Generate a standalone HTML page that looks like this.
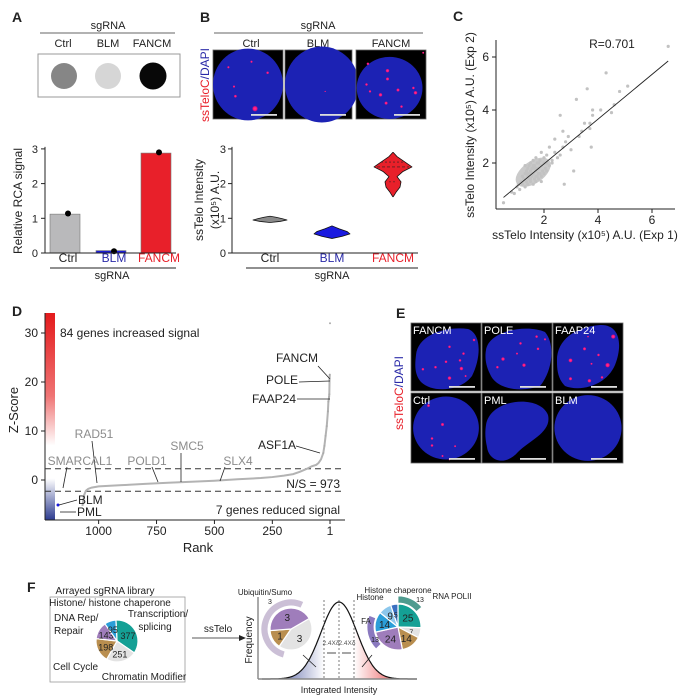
<!DOCTYPE html>
<html><head><meta charset="utf-8">
<style>
html,body{margin:0;padding:0;background:#fff;}
svg{display:block;font-family:"Liberation Sans",Arial,sans-serif;}
</style></head>
<body>
<svg id="fig" width="695" height="700" viewBox="0 0 695 700" xmlns="http://www.w3.org/2000/svg">
<defs>
<radialGradient id="dot" cx="50%" cy="50%" r="50%">
<stop offset="0" stop-color="#ff3399"/><stop offset="0.6" stop-color="#ff1177"/><stop offset="1" stop-color="#ff117700"/>
</radialGradient>
<linearGradient id="cbar" x1="0" y1="0" x2="0" y2="1">
<stop offset="0" stop-color="#e41a1c"/><stop offset="0.4" stop-color="#ef7474"/><stop offset="0.64" stop-color="#ffffff"/><stop offset="0.8" stop-color="#ffffff"/><stop offset="1" stop-color="#2c3b8f"/>
</linearGradient>
<linearGradient id="gblue" x1="0" y1="0" x2="1" y2="0">
<stop offset="0" stop-color="#2c3b8f"/><stop offset="1" stop-color="#ffffff"/>
</linearGradient>
<linearGradient id="gred" x1="0" y1="0" x2="1" y2="0">
<stop offset="0" stop-color="#ffffff"/><stop offset="1" stop-color="#e41a1c"/>
</linearGradient>
</defs>
</svg>
<script>
// ---------- DATA ----------
const barCategories = ["Ctrl","BLM","FANCM"];
const barValues = [1.12, 0.07, 2.88];
const barDots = [1.14, 0.05, 2.90];
const barTicks = [0,1,2,3];

const violinCategories = ["Ctrl","BLM","FANCM"];
const violinCtrlVals = [0.88,0.91,0.95,0.99,1.03,1.06];
const violinCtrlWid  = [0.2, 10, 17, 12, 6, 0.2];
const violinBlmVals = [0.42,0.48,0.55,0.62,0.70,0.78];
const violinBlmWid  = [0.2, 10, 18, 15, 7, 0.2];
const violinFancmVals = [1.62,1.75,1.90,2.05,2.20,2.35,2.48,2.62,2.78,2.90];
const violinFancmWid  = [0.2, 3, 7, 8, 4, 10, 19, 12, 4, 0.2];
const violinTicks = [0,1,2,3];

const scatterX = [0.5,0.8,0.9,1.0,1.05,1.1,1.15,1.2,1.2,1.25,1.3,1.3,1.35,1.35,1.4,1.4,1.4,1.45,1.45,1.5,1.5,1.5,1.55,1.55,1.6,1.6,1.6,1.65,1.65,1.7,1.7,1.7,1.75,1.75,1.8,1.8,1.85,1.85,1.9,1.9,1.95,2.0,2.0,2.05,2.1,2.1,2.2,2.2,2.3,2.4,2.5,2.6,2.6,2.7,2.75,2.8,2.9,3.0,3.1,3.2,3.3,3.4,3.5,3.6,3.7,3.75,3.8,3.8,4.1,4.3,4.5,4.6,4.8,5.1,6.6,1.3,1.5,1.6,1.7,1.8,1.9,2.0,1.4,1.5,1.6,1.7,1.8,2.4,2.7,3.7,1.9,2.1,2.3];
const scatterY = [0.5,0.9,0.85,1.1,1.2,1.0,1.3,1.2,1.5,1.4,1.1,1.6,1.3,1.7,1.2,1.5,1.8,1.4,1.9,1.3,1.6,2.0,1.5,1.8,1.2,1.6,2.1,1.4,1.9,1.3,1.7,2.2,1.5,2.0,1.4,1.8,1.6,2.1,1.5,1.9,1.7,1.6,2.2,1.8,1.7,2.3,1.9,2.6,2.0,2.4,2.2,3.8,2.3,2.6,1.2,2.8,3.0,2.5,1.7,4.4,3.0,3.2,3.5,4.8,3.3,2.6,3.8,4.0,4.0,5.4,3.9,4.2,4.7,4.9,6.4,1.9,1.7,1.9,1.8,1.6,2.4,2.0,1.6,1.4,1.8,1.5,2.0,2.9,3.2,3.5,1.3,2.0,2.1];
const scatterTicks = [2,4,6];
const fitLine = [0.5,0.7,6.6,5.85];

const rankValues = [1,2,3,4,5,6,8,10,15,20,25,30,40,50,60,80,100,130,160,200,250,300,400,500,600,700,800,900,1000,1030,1045,1055,1062,1066,1070];
const zValues = [32,21.5,20.5,17.5,17,16.5,16,14,11,9,7,5.5,4.2,3.5,3.1,2.8,2.3,1.7,1.2,0.9,0.6,0.4,0.15,-0.15,-0.35,-0.55,-0.8,-1.05,-1.3,-1.55,-1.8,-2.2,-3.0,-4.2,-5.3];
const rankTicks = [1000,750,500,250,1];
const zTicks = [0,10,20,30];

const libValues = [377,251,198,143,95];
const libColors = ["#14a095","#e3e3e3","#b98e4f","#9f7dbb","#2b9ed8"];
const lowValues = [3,1,3];
const lowColors = ["#e3e3e3","#b98e4f","#9f7dbb"];
const highValues = [25,7,14,24,14,9,5];
const highColors = ["#14a095","#e3e3e3","#b98e4f","#9f7dbb","#2b9ed8","#8cc7ec","#3a6fc0"];

// ---------- HELPERS ----------
const svg = document.getElementById('fig');
const NS = "http://www.w3.org/2000/svg";
function mk(tag, attrs, name, parent){
  const el = document.createElementNS(NS, tag);
  for (const k in attrs) el.setAttribute(k, attrs[k]);
  
  
  (parent||svg).appendChild(el);
  return el;
}
function txt(x,y,s,name,o){
  o=o||{};
  const el = mk('text',{x:x,y:y,'font-size':o.fs||11,'text-anchor':o.a||'middle',fill:o.c||'#222','font-weight':o.fw||'normal'},name,o.p);
  if(o.rot) el.setAttribute('transform','rotate('+o.rot+' '+x+' '+y+')');
  el.textContent=s;
  return el;
}
function line(x1,y1,x2,y2,name,o){
  o=o||{};
  return mk('line',{x1:x1,y1:y1,x2:x2,y2:y2,stroke:o.c||'#222','stroke-width':o.w||1,'stroke-dasharray':o.d||'none'},name,o.p);
}
function nucleus(x,y,w,h,name,shape,dots,label){
  const g = mk('g',{},name);
  mk('rect',{x:x,y:y,width:w,height:h,fill:'#000',stroke:'#666','stroke-width':0.8},'image-background',g);
  mk('path',{d:shape,fill:'#1c22b4'},'nucleus',g);
  dots.forEach(d=>{ mk('circle',{cx:x+d[0]*w,cy:y+d[1]*h,r:d[2],fill:'url(#dot)'},'telomere-foci',g); });
  mk('rect',{x:x+w-32,y:y+h-5,width:26,height:1.8,fill:'#ddd'},'scale-bar',g);
  if(label) txt(x+2,y+11,label,'image-label',{a:'start',c:'#fff',fs:11,p:g});
  return g;
}
function ellipsePath(x,y,w,h,ix,iy,iw,ih){
  const cx=x+w*ix, cy=y+h*iy, rx=w*iw, ry=h*ih;
  return 'M'+(cx-rx)+','+cy+' a'+rx+','+ry+' 0 1,0 '+(2*rx)+',0 a'+rx+','+ry+' 0 1,0 '+(-2*rx)+',0Z';
}
function pie(cx,cy,r,vals,cols,start,name,labels,fs){
  const tot = vals.reduce((a,b)=>a+b,0);
  let a0 = start*Math.PI/180;
  const g = mk('g',{},name);
  vals.forEach((v,i)=>{
    const a1 = a0 + v/tot*2*Math.PI;
    const x0=cx+r*Math.sin(a0), y0=cy-r*Math.cos(a0), x1=cx+r*Math.sin(a1), y1=cy-r*Math.cos(a1);
    const large = (a1-a0)>Math.PI?1:0;
    mk('path',{d:'M'+cx+','+cy+' L'+x0+','+y0+' A'+r+','+r+' 0 '+large+',1 '+x1+','+y1+'Z',fill:cols[i],stroke:'#fff','stroke-width':1.2},'pie-slice',g);
    if(labels){
      const am=(a0+a1)/2, lr=r*0.6;
      const f = (v/tot<0.08)?(fs||10)-3:(fs||10);
      txt(cx+lr*Math.sin(am),cy-lr*Math.cos(am)+4,String(v),'pie-value',{fs:f,p:g});
    }
    a0=a1;
  });
  return g;
}
function arc(cx,cy,r1,r2,s,e,col,name){
  const a=s*Math.PI/180,b=e*Math.PI/180,large=(e-s)>180?1:0;
  const p=(r,t)=>(cx+r*Math.sin(t))+','+(cy-r*Math.cos(t));
  return mk('path',{d:'M'+p(r2,a)+' A'+r2+','+r2+' 0 '+large+',1 '+p(r2,b)+' L'+p(r1,b)+' A'+r1+','+r1+' 0 '+large+',0 '+p(r1,a)+'Z',fill:col,stroke:'#fff','stroke-width':0.8},name);
}

// ---------- PANEL A ----------
txt(12,22,'A','panel-label-a',{fs:14,fw:'bold',a:'start'});
txt(108,29,'sgRNA','blot-sgrna-header');
line(40,33,175,33,'blot-header-line',{c:'#666'});
['Ctrl','BLM','FANCM'].forEach((s,i)=>txt([63,108,152][i],47,s,'blot-lane-label'));
mk('rect',{x:38,y:54,width:142,height:43,fill:'#fff',stroke:'#999','stroke-width':1},'dot-blot-frame');
mk('circle',{cx:64,cy:76,r:13,fill:'#868686'},'dot-blot-ctrl');
mk('circle',{cx:108,cy:76,r:13,fill:'#d6d6d6'},'dot-blot-blm');
mk('circle',{cx:153,cy:76,r:13.5,fill:'#080808'},'dot-blot-fancm');

const aY = v => 253 - v*34.7;
const aX = [65,111,156];
line(45,aY(3)-2,45,253,'a-y-axis');
barTicks.forEach(t=>{ line(41,aY(t),45,aY(t),'a-y-tick'); txt(38,aY(t)+4,String(t),'a-y-tick-label',{a:'end',fs:11}); });
txt(22,201,'Relative RCA signal','a-y-axis-title',{rot:-90,fs:12});
const barCols=['#b9b9bb','#1c1cd6','#e8202a'];
barValues.forEach((v,i)=>{
  mk('rect',{x:aX[i]-15,y:aY(v),width:30,height:253-aY(v),fill:barCols[i],stroke:'#777','stroke-width':0.6},'bar-'+barCategories[i].toLowerCase());
  mk('circle',{cx:aX[i]+3,cy:aY(barDots[i]),r:3,fill:'#000'},'dot-'+barCategories[i].toLowerCase());
});
line(45,253,176,253,'a-x-axis');
const labCols=['#222','#2a2aa8','#e8202a'];
barCategories.forEach((c,i)=>txt(aX[i]+3,262,c,'a-x-label-'+c.toLowerCase(),{c:labCols[i],fs:12}));
line(50,268,176,268,'a-sgrna-line');
txt(112,279,'sgRNA','a-x-axis-title');

// ---------- PANEL B ----------
txt(200,22,'B','panel-label-b',{fs:14,fw:'bold',a:'start'});
txt(318,29,'sgRNA','b-sgrna-header');
line(214,33,423,33,'b-header-line',{c:'#666'});
['Ctrl','BLM','FANCM'].forEach((s,i)=>txt([251,318,391][i],47,s,'b-image-label'));
nucleus(213,50,70,69,'image-ctrl',ellipsePath(213,50,70,69,0.5,0.5,0.5,0.52),[[0.22,0.25,1.3],[0.55,0.17,1.3],[0.78,0.33,1.5],[0.3,0.53,1.3],[0.32,0.67,1.6],[0.6,0.85,3]]);
nucleus(285,50,67,69,'image-blm',ellipsePath(285,50,67,69,0.55,0.5,0.55,0.55),[[0.6,0.6,0.8]]);
nucleus(356,50,70,69,'image-fancm',ellipsePath(356,50,70,69,0.48,0.55,0.47,0.45),[[0.17,0.2,1.5],[0.45,0.3,2],[0.35,0.65,2],[0.45,0.42,1.8],[0.15,0.5,1.5],[0.2,0.6,1.4],[0.6,0.58,1.8],[0.82,0.55,1.5],[0.85,0.62,2],[0.43,0.77,1.8],[0.65,0.82,1.5],[0.96,0.04,1.2]]);
(function(){const t=mk('text',{x:209,y:85,'font-size':12,'text-anchor':'middle',transform:'rotate(-90 209 85)'},'b-image-ylabel');
const s1=mk('tspan',{fill:'#e8202a'},'ylabel-ssteloc',t);s1.textContent='ssTeloC';
const s2=mk('tspan',{fill:'#2a2aa8'},'ylabel-dapi',t);s2.textContent='/DAPI';})();

const bY = v => 253 - v*34.7;
const bX = [270,332,393];
line(232,bY(3)-2,232,253,'b-y-axis');
violinTicks.forEach(t=>{ line(228,bY(t),232,bY(t),'b-y-tick'); txt(226,bY(t)+4,String(t),'b-y-tick-label',{a:'end',fs:11}); });
txt(203,200,'ssTelo Intensity','b-y-axis-title-1',{rot:-90,fs:12});
txt(219,200,'(x10⁵) A.U.','b-y-axis-title-2',{rot:-90,fs:12});
function violin(cx,vals,wid,col,name){
  let d='M'+cx+','+bY(vals[0]);
  vals.forEach((v,i)=>{ d+=' L'+(cx+wid[i])+','+bY(v); });
  for(let i=vals.length-1;i>=0;i--){ d+=' L'+(cx-wid[i])+','+bY(vals[i]); }
  mk('path',{d:d+'Z',fill:col,stroke:'#111','stroke-width':0.8,'stroke-linejoin':'round'},name);
}
violin(bX[0],violinCtrlVals,violinCtrlWid,'#8a8a8a','violin-ctrl');
violin(bX[1],violinBlmVals,violinBlmWid,'#1a1ae0','violin-blm');
violin(bX[2],violinFancmVals,violinFancmWid,'#e8202a','violin-fancm');
line(bX[2]-16,bY(2.48),bX[2]+16,bY(2.48),'violin-median',{d:'3,2',w:0.7});
line(bX[2]-12,bY(2.62),bX[2]+12,bY(2.62),'violin-quartile',{d:'2,2',w:0.6});
line(bX[2]-4,bY(2.05),bX[2]+4,bY(2.05),'violin-quartile',{d:'2,2',w:0.6});
line(232,253,418,253,'b-x-axis');
violinCategories.forEach((c,i)=>txt(bX[i],262,c,'b-x-label-'+c.toLowerCase(),{c:labCols[i],fs:12}));
line(246,268,418,268,'b-sgrna-line');
txt(332,279,'sgRNA','b-x-axis-title');

// ---------- PANEL C ----------
txt(453,21,'C','panel-label-c',{fs:14,fw:'bold',a:'start'});
const cX = v => 490 + v*27;
const cY = v => 216 - v*26.5;
line(496,40,496,209,'c-y-axis');
line(496,209,675,209,'c-x-axis');
scatterTicks.forEach(t=>{
  line(cX(t),209,cX(t),213,'c-x-tick'); txt(cX(t),224,String(t),'c-x-tick-label',{fs:12});
  line(492,cY(t),496,cY(t),'c-y-tick'); txt(489,cY(t)+4,String(t),'c-y-tick-label',{a:'end',fs:12});
});
mk('ellipse',{cx:cX(1.6),cy:cY(1.65),rx:20,ry:11,fill:'#cacaca',transform:'rotate(-35 '+cX(1.6)+' '+cY(1.65)+')'},'scatter-cluster');
scatterX.forEach((x,i)=>{ mk('circle',{cx:cX(x),cy:cY(scatterY[i]),r:1.6,fill:'#c2c2c2'},'scatter-point'); });
line(cX(fitLine[0]),cY(fitLine[1]),cX(fitLine[2]),cY(fitLine[3]),'c-fit-line',{w:0.9});
txt(612,48,'R=0.701','c-correlation-label',{fs:12});
txt(585,239,'ssTelo Intensity (x10⁵) A.U. (Exp 1)','c-x-axis-title',{fs:12});
txt(474,125,'ssTelo Intensity (x10⁵) A.U.  (Exp 2)','c-y-axis-title',{rot:-90,fs:12});

// ---------- PANEL D ----------
txt(12,316,'D','panel-label-d',{fs:14,fw:'bold',a:'start'});
const dX = r => 330 - (r-1)*0.2316;
const dY = z => 480 - z*4.9;
mk('rect',{x:45,y:313,width:10,height:207,fill:'url(#cbar)'},'d-colorbar');
line(45,313,45,520,'d-y-axis');
line(45,520,345,520,'d-x-axis');
zTicks.forEach(t=>{ line(41,dY(t),45,dY(t),'d-y-tick'); txt(38,dY(t)+4,String(t),'d-y-tick-label',{a:'end',fs:12}); });
rankTicks.forEach(t=>{ line(dX(t),520,dX(t),524,'d-x-tick'); txt(dX(t),535,String(t),'d-x-tick-label',{fs:12}); });
txt(198,552,'Rank','d-x-axis-title',{fs:13});
txt(18,410,'Z-Score','d-y-axis-title',{rot:-90,fs:13});
line(45,dY(2.3),345,dY(2.3),'d-threshold-upper',{d:'6,4',c:'#333'});
line(45,dY(-2.3),345,dY(-2.3),'d-threshold-lower',{d:'6,4',c:'#333'});
let dPath='';
rankValues.forEach((r,i)=>{ if(i>0) dPath+=(i===1?'M':' L')+dX(r)+','+dY(zValues[i]); });
mk('path',{d:dPath,fill:'none',stroke:'#b3b3b3','stroke-width':2},'d-zscore-curve');
rankValues.forEach((r,i)=>{ if(i<12) mk('circle',{cx:dX(r),cy:dY(zValues[i]),r:1,fill:'#aaa'},'d-zscore-point'); });
mk('circle',{cx:58,cy:505,r:1.5,fill:'#1a1ae0'},'d-blm-point');
txt(60,337,'84 genes increased signal','d-increased-label',{a:'start',fs:12});
txt(340,514,'7 genes reduced signal','d-reduced-label',{a:'end',fs:12});
txt(340,488,'N/S = 973','d-ns-label',{a:'end',fs:12});
const blk=[['FANCM',318,362,318,366,330,379],['POLE',298,384,299,382,330,381],['FAAP24',296,403,297,399,330,399],['ASF1A',296,449,296,446,320,453]];
blk.forEach(b=>{ txt(b[1],b[2],b[0],'d-gene-label-'+b[0].toLowerCase(),{a:'end',fs:12}); line(b[3],b[4],b[5],b[6],'d-gene-pointer',{w:0.8}); });
const gry=[['RAD51',94,438,92,441,97,483],['SMARCAL1',80,465,67,467,63,488],['POLD1',147,465,152,467,158,482],['SMC5',187,450,181,453,181,482],['SLX4',238,465,225,467,220,481]];
gry.forEach(b=>{ txt(b[1],b[2],b[0],'d-gene-label-'+b[0].toLowerCase(),{fs:12,c:'#8c8c8c'}); line(b[3],b[4],b[5],b[6],'d-gene-pointer',{w:0.8}); });
txt(78,504,'BLM','d-gene-label-blm',{a:'start',fs:12});
line(59,505,77,500,'d-gene-pointer',{w:0.8});
txt(77,516,'PML','d-gene-label-pml',{a:'start',fs:12});
line(60,512,76,512,'d-gene-pointer',{w:0.8});

// ---------- PANEL E ----------
txt(396,318,'E','panel-label-e',{fs:14,fw:'bold',a:'start'});
nucleus(411,323,70,68,'e-image-fancm','M416,355 C418,335 445,326 468,329 C482,334 481,358 472,376 C460,392 432,393 421,382 C414,374 415,364 416,355Z',[[0.17,0.68,1.5],[0.35,0.65,1.5],[0.55,0.35,1.5],[0.72,0.67,2],[0.5,0.57,1.5],[0.7,0.55,1.5],[0.55,0.81,2],[0.78,0.78,1.2],[0.9,0.25,1.5],[0.75,0.45,1.5]],'FANCM');
nucleus(482,323,70,68,'e-image-pole','M486,350 C489,330 528,324 545,332 C556,345 552,372 540,386 C520,393 496,389 490,374 C485,364 485,356 486,350Z',[[0.3,0.53,2],[0.22,0.65,1.5],[0.6,0.62,2],[0.55,0.3,1.5],[0.78,0.2,1.5],[0.8,0.38,1.5],[0.5,0.45,1.2],[0.9,0.24,1.3]],'POLE');
nucleus(553,323,70,68,'e-image-faap24','M557,362 C556,340 575,327 600,325 C620,324 623,345 615,365 C606,386 580,392 565,386 C558,379 557,370 557,362Z',[[0.25,0.55,2.2],[0.45,0.38,1.8],[0.65,0.47,1.5],[0.86,0.2,2.4],[0.78,0.62,2.5],[0.55,0.6,1.2],[0.52,0.85,2],[0.7,0.8,1.5],[0.25,0.82,1.8],[0.5,0.2,1]],'FAAP24');
nucleus(411,393,70,70,'e-image-ctrl',ellipsePath(411,393,70,70,0.5,0.5,0.47,0.45),[[0.25,0.18,1.6],[0.45,0.45,1.8],[0.3,0.65,1.5],[0.3,0.75,1.5],[0.63,0.76,1.2],[0.45,0.9,1.2],[0.55,0.95,1]],'Ctrl');
nucleus(482,393,70,70,'e-image-pml','M486,425 C490,398 540,394 548,415 C552,432 530,440 518,452 C506,466 489,462 487,447 C485,438 485,432 486,425Z',[],'PML');
nucleus(553,393,70,70,'e-image-blm',ellipsePath(553,393,70,70,0.5,0.5,0.48,0.47),[],'BLM');
(function(){const t=mk('text',{x:403,y:393,'font-size':12,'text-anchor':'middle',transform:'rotate(-90 403 393)'},'e-image-ylabel');
const s1=mk('tspan',{fill:'#e8202a'},'ylabel-ssteloc',t);s1.textContent='ssTeloC';
const s2=mk('tspan',{fill:'#2a2aa8'},'ylabel-dapi',t);s2.textContent='/DAPI';})();

// ---------- PANEL F ----------
txt(27,592,'F','panel-label-f',{fs:14,fw:'bold',a:'start'});
txt(105,594,'Arrayed sgRNA library','f-library-title',{fs:10});
mk('rect',{x:50,y:597,width:135,height:85,fill:'#fff',stroke:'#999','stroke-width':0.8},'f-library-box');
pie(117,641,21,libValues,libColors,-3,'f-library-pie',true,9);
txt(110,606,'Histone/ histone chaperone','f-cat-histone',{fs:10});
txt(158,617,'Transcription/','f-cat-transcription',{fs:10});
txt(155,630,'splicing','f-cat-splicing',{fs:10});
txt(54,621,'DNA Rep/','f-cat-dnarep',{fs:10,a:'start'});
txt(54,634,'Repair','f-cat-repair',{fs:10,a:'start'});
txt(53,670,'Cell Cycle','f-cat-cellcycle',{fs:10,a:'start'});
txt(144,680,'Chromatin Modifier','f-cat-chromatin',{fs:10});
line(192,638,242,638,'f-arrow-line',{w:0.8});
mk('path',{d:'M246,638 L239,635 L239,641Z',fill:'#222'},'f-arrow-head');
txt(218,632,'ssTelo','f-arrow-label',{fs:10});
const gMu=339, gSd=18;
const gy = x => (679-77*Math.exp(-Math.pow(x-gMu,2)/(2*gSd*gSd))).toFixed(1);
let gPath='';
for(let x=262;x<=417;x++){ gPath+=(x===262?'M':' L')+x+','+gy(x); }
let bl='M262,679', rd='M354,679';
for(let x=262;x<=324;x++){ bl+=' L'+x+','+gy(x); }
bl+=' L324,679Z';
for(let x=354;x<=417;x++){ rd+=' L'+x+','+gy(x); }
rd+=' L417,679Z';
mk('path',{d:bl,fill:'url(#gblue)'},'f-low-tail');
mk('path',{d:rd,fill:'url(#gred)'},'f-high-tail');
mk('path',{d:gPath,fill:'none',stroke:'#111','stroke-width':1.2},'f-distribution-curve');
line(258,597,258,679,'f-y-axis',{c:'#555'});
line(258,679,417,679,'f-x-axis',{c:'#888',w:1.5});
[324,339,354].forEach(x=>line(x,600,x,679,'f-sd-line',{d:'2,2',w:0.7,c:'#444'}));
txt(331,645,'2.4Xδ','f-sd-label',{fs:6.5,c:'#555'});
txt(347,645,'2.4Xδ','f-sd-label',{fs:6.5,c:'#555'});
line(327,653,336,653,'f-sd-arrow',{w:0.8}); line(342,653,351,653,'f-sd-arrow',{w:0.8});
txt(339,693,'Integrated Intensity','f-x-axis-title',{fs:9});
txt(252,640,'Frequency','f-y-axis-title',{rot:-90,fs:10});
line(316,667,303,655,'f-low-pointer',{w:0.8}); line(362,667,372,655,'f-high-pointer',{w:0.8});
arc(291,629,23,30,195,385,'#cbbfd6','f-ubiquitin-ring');
txt(270,604,'3','f-ring-value',{fs:7});
pie(291,629,21,lowValues,lowColors,60,'f-low-pie',true,10);
txt(265,595,'Ubiquitin/Sumo','f-cat-ubiquitin',{fs:8});
arc(398,627,24,31,0,50,'#4f9b8f','f-rnapol-ring');
arc(398,627,24,31,225,292,'#8a79bf','f-fa-ring');
pie(398,627,23,highValues,highColors,0,'f-high-pie',true,10);
txt(420,602,'13','f-ring-value',{fs:7});
txt(375,642,'13','f-ring-value',{fs:7});
txt(452,599,'RNA POLII','f-cat-rnapol',{fs:8});
txt(398,593,'Histone chaperone','f-cat-histone-chaperone',{fs:8});
txt(370,600,'Histone','f-cat-histone-high',{fs:8});
txt(366,624,'FA','f-cat-fa',{fs:8});
</script>
</body></html>
